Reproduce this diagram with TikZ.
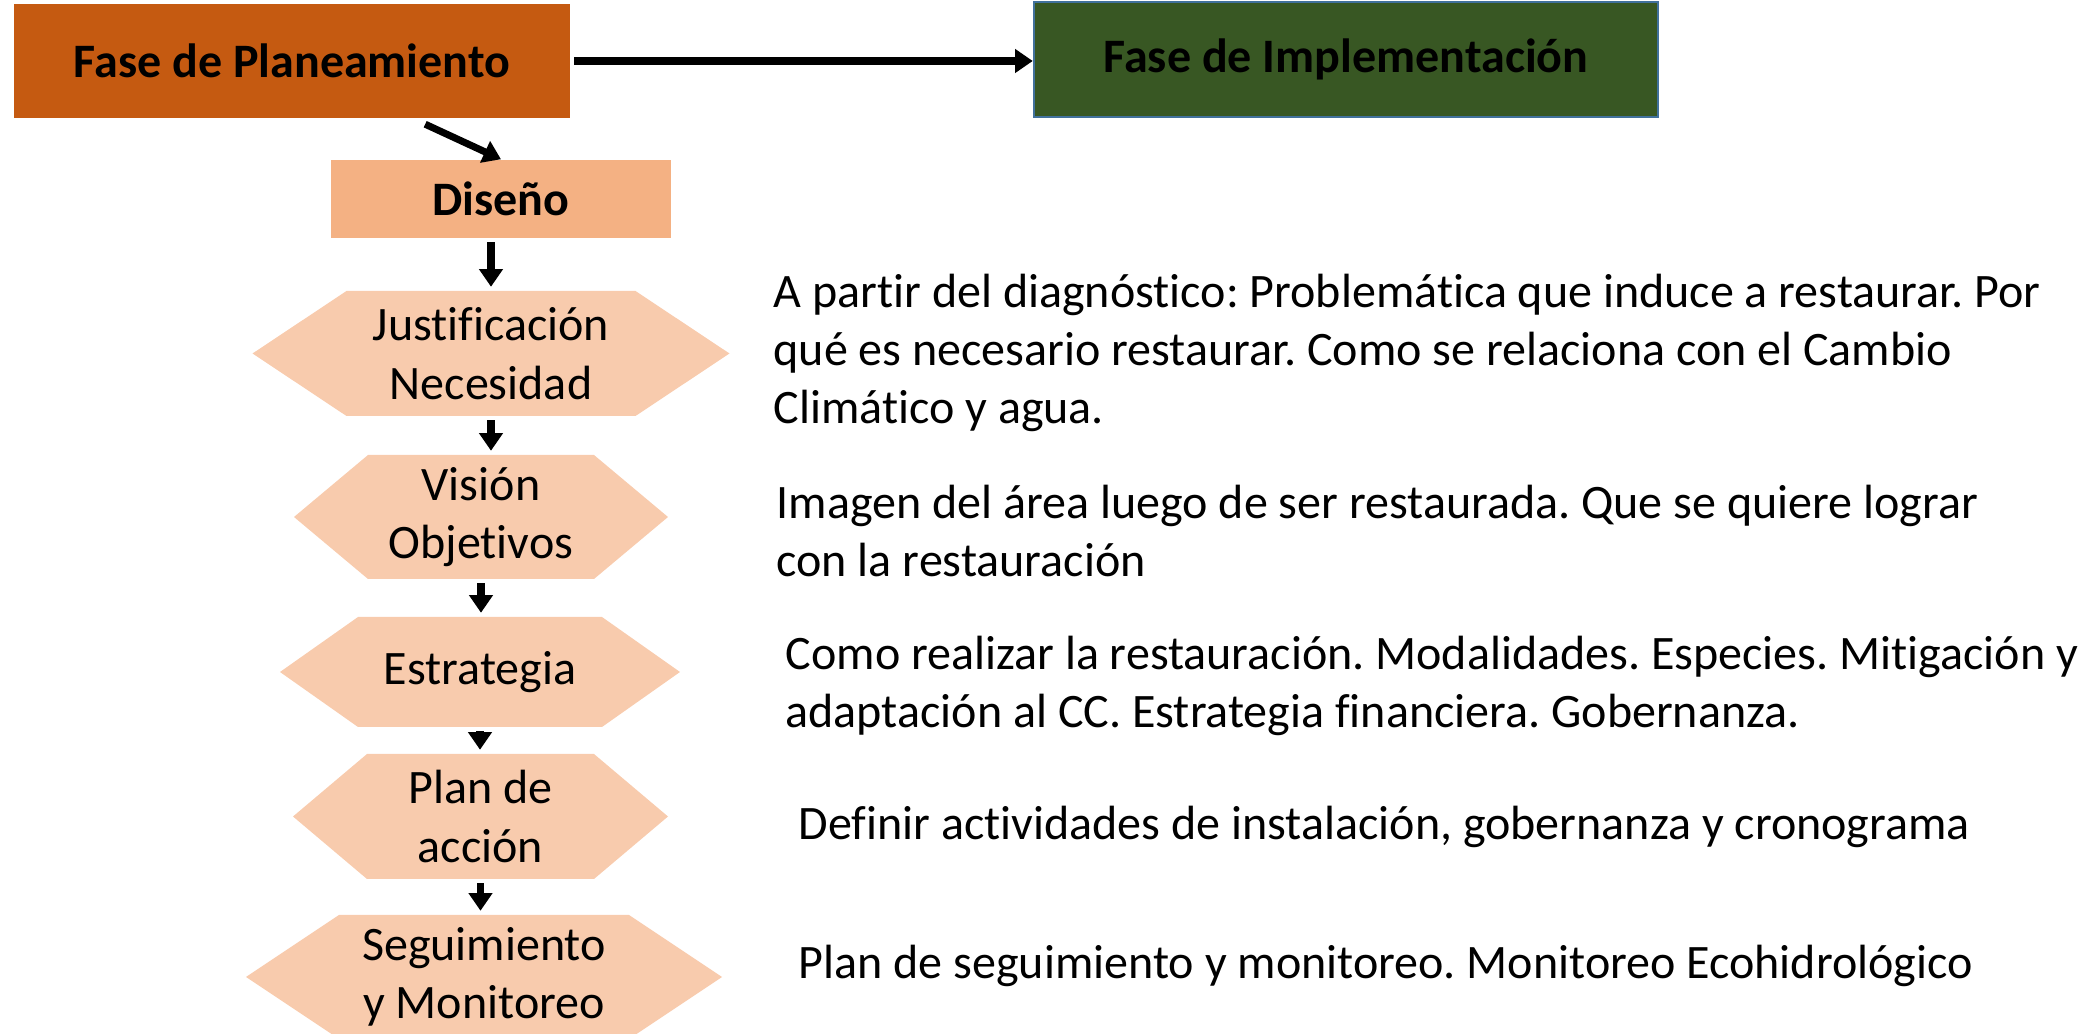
\documentclass[tikz,border=0pt]{standalone}
\usepackage{fontspec}
\setmainfont{Carlito}[Ligatures=NoCommon]
\usetikzlibrary{arrows.meta,calc}
\definecolor{planorange}{HTML}{C55A11}
\definecolor{implgreen}{HTML}{385723}
\definecolor{implborder}{HTML}{41719C}
\definecolor{disenofill}{HTML}{F4B183}
\definecolor{hexfill}{HTML}{F8CBAD}
\frenchspacing

% hexagon step: name, x, y, width, height, tip offset, text
\newcommand{\hexstep}[7]{%
    \fill[hexfill] (#2-#4/2,#3-#5/2) -- (#2+#4/2,#3-#5/2) -- (#2+#4/2+#6,#3)
        -- (#2+#4/2,#3+#5/2) -- (#2-#4/2,#3+#5/2) -- (#2-#4/2-#6,#3) -- cycle;
    \node[hexnode,minimum width=#4*0.01cm,minimum height=#5*0.01cm] (#1) at (#2,#3) {#7};
}

\begin{document}
\begin{tikzpicture}[x=0.01cm,y=-0.01cm,
    txt/.style={font=\fontsize{13.66}{16.6}\selectfont},
    phase/.style={font=\fontsize{13.66}{16.6}\selectfont\bfseries,inner sep=0pt},
    arr/.style={line width=2pt,shorten <=1pt,-{Triangle[width=6.5pt,length=5pt]}},
    hexnode/.style={txt,align=center,inner sep=0pt},
    desc/.style={txt,align=left,anchor=base west,inner sep=0pt}]
    \useasboundingbox (0,0) rectangle (2093,1034);

    % phases
    \node[phase,fill=planorange,minimum width=5.56cm,minimum height=1.14cm] (plan) at (292,61) {Fase de Planeamiento};
    \node[phase,fill=implgreen,draw=implborder,line width=0.6pt,minimum width=6.24cm,minimum height=1.15cm] (impl) at (1346,59.5) {Fase de Implementación};
    \node[phase,fill=disenofill,minimum width=3.40cm,minimum height=0.78cm] (diseno) at (501,199) {Diseño};

    % steps of the design
    \hexstep{hjust}{491}{353.5}{289}{125}{94}{Justificación\\Necesidad}
    \hexstep{hvis}{481}{517}{226}{124}{74}{Visión\\Objetivos}
    \hexstep{hestr}{480}{672}{244}{110}{78}{Estrategia}
    \hexstep{hplan}{480.5}{816.5}{227}{125}{74}{Plan de\\acción}
    \hexstep{hseg}{484}{977}{290}{124}{93}{Seguimiento\\y Monitoreo}

    % descriptions (placed at the baseline of their last line)
    \node[desc] (djust) at (773,424) {A partir del diagnóstico: Problemática que induce a restaurar. Por\\qué es necesario restaurar. Como se relaciona con el Cambio\\Climático y agua.};
    \node[desc] (dvis) at (776,577) {Imagen del área luego de ser restaurada. Que se quiere lograr\\con la restauración};
    \node[desc] (destr) at (785,728) {Como realizar la restauración. Modalidades. Especies. Mitigación y\\adaptación al CC. Estrategia financiera. Gobernanza.};
    \node[desc] (dplan) at (798,840) {Definir actividades de instalación, gobernanza y cronograma};
    \node[desc] (dseg) at (798,979) {Plan de seguimiento y monitoreo. Monitoreo Ecohidrológico};

    \draw[arr] (plan.east) -- (plan.east -| impl.west);
    \draw[arr] ($(plan.south)+(130,4)$) -- (diseno.north);
    \draw[arr,shorten >=1pt] (diseno.south -| hjust) -- (hjust.north);
    \draw[arr,shorten >=1pt] (hjust.south) -- (hjust.south |- hvis.north);
    \draw[arr,shorten >=1pt] (hvis.south) -- (hvis.south |- hestr.north);
    \draw[arr,shorten >=1pt] (hestr.south) -- (hestr.south |- hplan.north);
    \draw[arr,shorten >=1pt] (hplan.south) -- (hplan.south |- hseg.north);
\end{tikzpicture}
\end{document}
